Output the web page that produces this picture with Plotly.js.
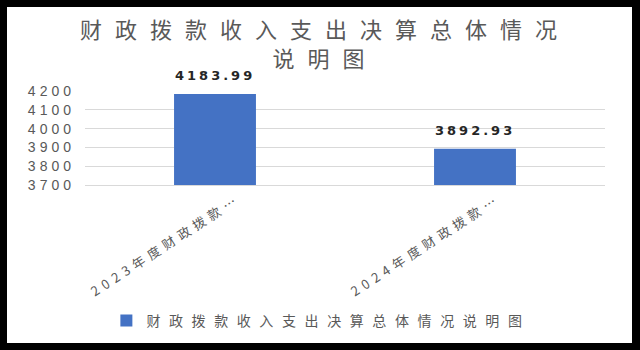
<!DOCTYPE html>
<html>
<head>
<meta charset="utf-8">
<script src="https://cdn.plot.ly/plotly-3.0.1.min.js"></script>
<style>
html,body{margin:0;padding:0;background:#000;width:640px;height:350px;overflow:hidden}
#chart{position:absolute;left:7px;top:7px;width:625px;height:336px;outline:1px solid #c8c8c8;outline-offset:-1px}
text.gtitle{letter-spacing:13px}
.ytick text{letter-spacing:4px}
.xtick text{letter-spacing:5px}
text.legendtext{letter-spacing:8.6px}
text.annotation-text{letter-spacing:3px}
</style>
</head>
<body>
<div id="chart"></div>
<script>
const categories = ["2023年度财政拨款…", "2024年度财政拨款…"];
const values = [4183.99, 3892.93];
const seriesName = "财政拨款收入支出决算总体情况说明图";
const chartTitle = "财政拨款收入支出决算总体情况<br>说明图";
const yTicks = [3700, 3800, 3900, 4000, 4100, 4200];

const cjk = '"Noto Sans CJK SC", "Noto Sans", sans-serif';

const trace = {
  type: 'bar',
  x: categories,
  y: values,
  name: seriesName,
  marker: {color: '#4472C4'},
  showlegend: true,
  hoverinfo: 'none'
};

const annotations = categories.map((c, i) => ({
  x: c, y: values[i], xref: 'x', yref: 'y',
  text: values[i].toFixed(2),
  showarrow: false, yanchor: 'bottom', yshift: 9,
  font: {family: '"DejaVu Sans", sans-serif', size: 13, color: '#262626', weight: 'bold'}
}));

const layout = {
  width: 625, height: 336,
  paper_bgcolor: '#ffffff', plot_bgcolor: '#ffffff',
  margin: {l: 78, r: 27, t: 84, b: 158},
  title: {
    text: chartTitle,
    font: {family: cjk, size: 22, color: '#595959'},
    x: 0.509, xanchor: 'center', xref: 'container',
    y: 0.908, yanchor: 'top', yref: 'container'
  },
  bargap: 0.685,
  xaxis: {
    type: 'category',
    showline: true, linecolor: '#d9d9d9', linewidth: 1,
    ticks: '', showgrid: false,
    tickangle: -33,
    ticklabelshift: 23,
    ticklabelstandoff: 1,
    tickfont: {family: cjk, size: 13, color: '#595959'},
    automargin: false
  },
  yaxis: {
    range: [3700, 4200],
    tickvals: yTicks,
    ticktext: yTicks.map(String),
    showgrid: true, gridcolor: '#d9d9d9', gridwidth: 1,
    zeroline: false, showline: false, ticks: '',
    ticklabelstandoff: 9,
    tickfont: {family: '"Liberation Sans", Arial, sans-serif', size: 14, color: '#595959'},
    automargin: false
  },
  legend: {
    orientation: 'h',
    x: 0.503, xanchor: 'center', xref: 'container',
    y: 0.0655, yanchor: 'middle', yref: 'container',
    font: {family: cjk, size: 14, color: '#595959'},
    itemclick: false, itemdoubleclick: false
  },
  annotations: annotations,
  showlegend: true
};

Plotly.newPlot('chart', [trace], layout, {displayModeBar: false, staticPlot: true});
</script>
</body>
</html>
